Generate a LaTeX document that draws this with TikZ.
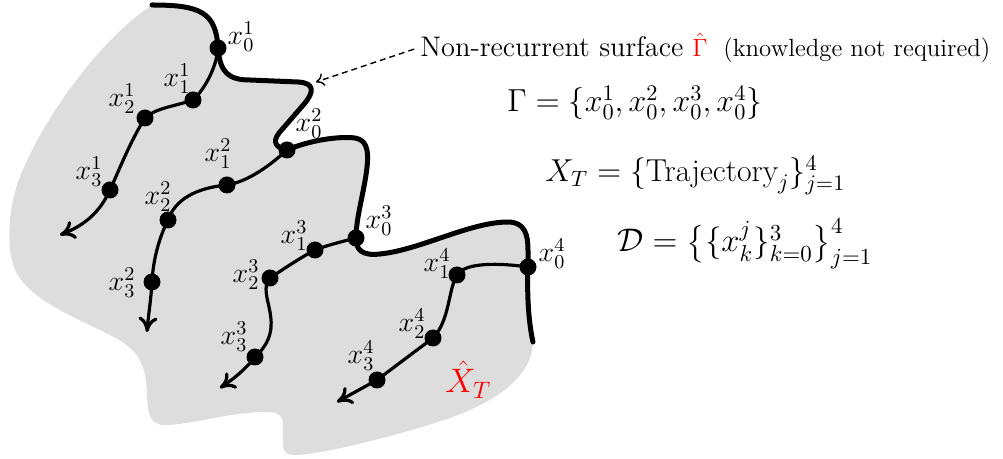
\RequirePackage{fix-cm}
\documentclass[tikz,border=0pt]{standalone}
\usepackage{amsmath}
\usepackage{graphicx}
\usetikzlibrary{arrows.meta}
\definecolor{blobgray}{RGB}{221,221,221}
\pgfdeclarelayer{bg}
\pgfsetlayers{bg,main}
\begin{document}
\begin{tikzpicture}[x=0.5pt,y=-0.5pt,
  dot/.style={circle,fill=black,inner sep=0pt,minimum size=8.5pt},
  lbl/.style={inner sep=0pt,font=\fontsize{14}{16}\selectfont},
  eqn/.style={inner sep=0pt,anchor=base west,font=\fontsize{15}{18}\selectfont},
  txt/.style={inner sep=0pt,anchor=base west},
  traj/.style={line width=1.6pt,line cap=round,-{Computer Modern Rightarrow[length=7.5pt,width=9.5pt]}},
  bound/.style={line width=2.5pt,line cap=round,line join=round},
  hint/.style={line width=0.7pt,dash pattern=on 3pt off 2pt,-{Computer Modern Rightarrow[length=4pt,width=6.5pt]}}
]
\useasboundingbox (0,0) rectangle (1003,459);

% dots
\node[dot] (p01) at (218,48) {};
\node[dot] (p11) at (193,100) {};
\node[dot] (p21) at (145,118) {};
\node[dot] (p31) at (110,190) {};
\node[dot] (p02) at (287,150) {};
\node[dot] (p12) at (227,185) {};
\node[dot] (p22) at (168,220) {};
\node[dot] (p32) at (152,282) {};
\node[dot] (p03) at (356,238) {};
\node[dot] (p13) at (315,250) {};
\node[dot] (p23) at (270,278) {};
\node[dot] (p33) at (255,357) {};
\node[dot] (p04) at (528,267) {};
\node[dot] (p14) at (457,275) {};
\node[dot] (p24) at (433,338) {};
\node[dot] (p34) at (377,380) {};

\coordinate (e1) at (60,235);
\coordinate (e2) at (147,332);
\coordinate (e3) at (220,388);
\coordinate (e4) at (337,402);
\coordinate (s0) at (152,5);
\coordinate (s1) at (533,342);

% gray region
\begin{pgfonlayer}{bg}
\fill[blobgray] (s0) .. controls (200,5) and (216,12) .. (p01.center)
  .. controls (220,72) and (228,80) .. (250,80) -- (298,82)
  .. controls (316,83) and (313,93) .. (305,103) -- (279,133)
  .. controls (272,142) and (276,148) .. (p02.center)
  .. controls (310,140) and (340,136) .. (355,138)
  .. controls (369,140) and (369,155) .. (366,175)
  .. controls (362,200) and (356,220) .. (p03.center)
  .. controls (356,250) and (362,256) .. (380,254)
  .. controls (420,250) and (470,222) .. (508,222)
  .. controls (525,222) and (528,235) .. (528,250) -- (p04.center)
  .. controls (527,290) and (528,320) .. (s1)
  .. controls (532,375) and (500,400) .. (450,418)
  .. controls (400,435) and (320,455) .. (295,455)
  .. controls (283,455) and (283,448) .. (283,440) -- (283,425)
  .. controls (283,415) and (278,412) .. (265,412)
  .. controls (230,412) and (190,425) .. (165,425)
  .. controls (150,425) and (148,415) .. (147,395)
  .. controls (146,365) and (140,350) .. (110,335)
  .. controls (70,315) and (30,300) .. (15,270)
  .. controls (5,245) and (8,200) .. (25,165)
  .. controls (50,110) and (100,40) .. (s0) -- cycle;
\end{pgfonlayer}

% non-recurrent surface
\draw[bound] (s0) .. controls (200,5) and (216,12) .. (p01.center)
  .. controls (220,72) and (228,80) .. (250,80) -- (298,82)
  .. controls (316,83) and (313,93) .. (305,103) -- (279,133)
  .. controls (272,142) and (276,148) .. (p02.center)
  .. controls (310,140) and (340,136) .. (355,138)
  .. controls (369,140) and (369,155) .. (366,175)
  .. controls (362,200) and (356,220) .. (p03.center)
  .. controls (356,250) and (362,256) .. (380,254)
  .. controls (420,250) and (470,222) .. (508,222)
  .. controls (525,222) and (528,235) .. (528,250) -- (p04.center)
  .. controls (527,290) and (528,320) .. (s1);

% trajectories
\draw[traj] (p01.center) .. controls (217,65) and (206,88) .. (p11.center)
  .. controls (172,107) and (156,108) .. (p21.center)
  .. controls (130,142) and (120,168) .. (p31.center)
  .. controls (100,212) and (85,225) .. (e1);
\draw[traj] (p02.center) .. controls (265,170) and (245,182) .. (p12.center)
  .. controls (195,188) and (175,200) .. (p22.center)
  .. controls (158,240) and (153,262) .. (p32.center)
  .. controls (151,300) and (148,318) .. (e2);
\draw[traj] (p03.center) .. controls (340,242) and (325,246) .. (p13.center)
  .. controls (300,258) and (285,268) .. (p23.center)
  .. controls (255,295) and (290,325) .. (p33.center)
  .. controls (245,370) and (232,380) .. (e3);
\draw[traj] (p04.center) .. controls (500,263) and (465,262) .. (p14.center)
  .. controls (448,290) and (450,320) .. (p24.center)
  -- (p34.center) -- (e4);

% labels
\node[lbl] (l01) at (241,37) {$x_0^1$};
\node[lbl] (l11) at (177,79) {$x_1^1$};
\node[lbl] (l21) at (122,99) {$x_2^1$};
\node[lbl] (l31) at (89,172) {$x_3^1$};
\node[lbl] (l02) at (309,124) {$x_0^2$};
\node[lbl] (l12) at (218,154) {$x_1^2$};
\node[lbl] (l22) at (158,197) {$x_2^2$};
\node[lbl] (l32) at (122,283) {$x_3^2$};
\node[lbl] (l03) at (379,221) {$x_0^3$};
\node[lbl] (l13) at (294,236) {$x_1^3$};
\node[lbl] (l23) at (246,275) {$x_2^3$};
\node[lbl] (l33) at (234,337) {$x_3^3$};
\node[lbl] (l04) at (552,254) {$x_0^4$};
\node[lbl] (l14) at (437,264) {$x_1^4$};
\node[lbl] (l24) at (412,324) {$x_2^4$};
\node[lbl] (l34) at (361,356) {$x_3^4$};
\node[txt,text=red,font=\fontsize{17}{20}\selectfont] (xhat) at (445,393) {$\hat{X}_T$};

% texts
\node[txt,font=\fontsize{13}{16}\selectfont] (nrs) at (420,57)
  {\resizebox{131.5pt}{!}{Non-recurrent surface}};
\node[txt,text=red,font=\fontsize{12.5}{15}\selectfont] (ghat) at (692,57) {$\hat{\Gamma}$};
\node[txt,font=\fontsize{12}{15}\selectfont] (know) at (723,57)
  {\resizebox{133.5pt}{!}{(knowledge not required)}};
\coordinate (tipA) at (316,82);
\draw[hint] ([xshift=-3pt,yshift=-1pt]nrs.west) -- (tipA);

\node[eqn] (eq1) at (507,112) {\resizebox{127.5pt}{!}{$\Gamma = \{x_0^1, x_0^2, x_0^3, x_0^4\}$}};
\node[eqn] (eq2) at (545,182) {\resizebox{150pt}{!}{$X_T = \{\text{Trajectory}_j\}_{j=1}^4$}};
\node[eqn] (eq3) at (617,252) {\resizebox{127.5pt}{!}{$\mathcal{D} = \big\{\{x_k^j\}_{k=0}^3\big\}_{j=1}^4$}};
\end{tikzpicture}
\end{document}
